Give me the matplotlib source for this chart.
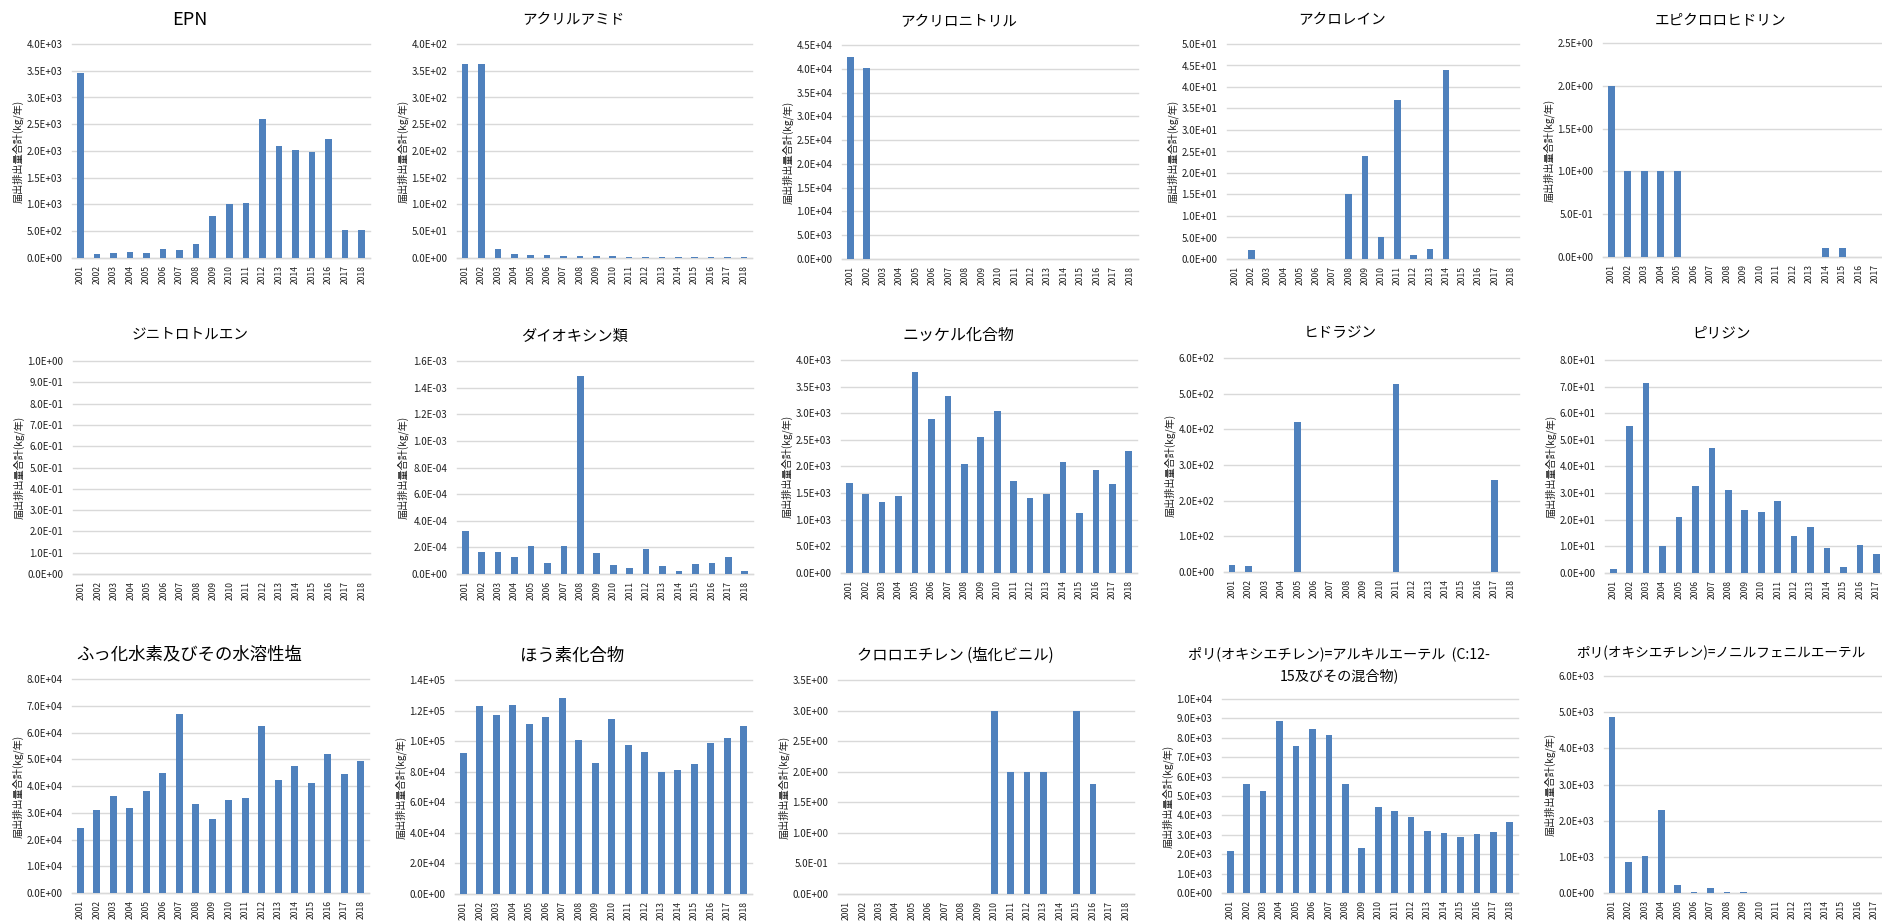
import numpy as np
import matplotlib
matplotlib.use("Agg")
import matplotlib.pyplot as plt
from matplotlib.ticker import FuncFormatter

plt.rcParams['font.family'] = ['Noto Sans CJK JP', 'DejaVu Sans']

W, H = 1883, 922
bar_color = "#4F81BD"
grid_color = "#D9D9D9"
ylabel = "届出排出量合計(kg/年)"

years = ["2001", "2002", "2003", "2004", "2005", "2006", "2007", "2008", "2009",
         "2010", "2011", "2012", "2013", "2014", "2015", "2016", "2017", "2018"]

epn = [3460, 80, 100, 120, 100, 174, 155, 261, 783, 1000, 1019, 2596, 2093, 2019, 1988, 2217, 516, 516]
acrylamide = [362, 362, 17, 7.5, 5.6, 5.6, 3.8, 3.8, 3.8, 3.8, 2.5, 2.5, 2.5, 2.5, 2.5, 2.5, 2.5, 2.5]
acrylonitrile = [42400, 40100, 0, 0, 0, 0, 0, 0, 0, 0, 0, 0, 0, 0, 0, 0, 0, 0]
acrolein = [0, 2, 0, 0, 0, 0, 0, 15, 24, 5, 37, 1, 2.4, 44, 0, 0, 0, 0]
epichlorohydrin = [2, 1, 1, 1, 1, 0, 0, 0, 0, 0, 0, 0, 0, 0.1, 0.1, 0, 0, 0]
dinitrotoluene = [0] * 18
dioxins = [3.26e-4, 1.68e-4, 1.68e-4, 1.30e-4, 2.10e-4, 0.80e-4, 2.10e-4, 14.84e-4, 1.60e-4,
           0.65e-4, 0.45e-4, 1.90e-4, 0.60e-4, 0.23e-4, 0.73e-4, 0.80e-4, 1.25e-4, 0.23e-4]
nickel = [1684, 1490, 1327, 1446, 3781, 2898, 3324, 2047, 2554, 3036, 1721, 1415, 1490, 2085, 1127, 1941, 1671, 2297]
hydrazine = [20, 18, 0, 0, 420, 0, 0, 0, 0, 0, 528, 0, 0, 0, 0, 0, 257, 0]
pyridine = [1.6, 55.3, 71.2, 10.0, 20.9, 32.8, 47.0, 31.0, 23.7, 23.0, 27.0, 13.9, 17.2, 9.3, 2.4, 10.4, 7.0, 6.0]
hf = [24400, 30900, 36300, 31900, 38100, 44900, 66800, 33400, 27700, 34800, 35500, 62600, 42400, 47500,
      41200, 52100, 44600, 49500]
boron = [92000, 123000, 117300, 123600, 111000, 115600, 128000, 101000, 85900, 114300, 97300, 92700,
         79600, 81300, 85300, 99000, 102300, 109700]
vinyl_chloride = [0, 0, 0, 0, 0, 0, 0, 0, 0, 3, 2, 2, 2, 0, 3, 1.8, 0, 0]
aeo = [2178, 5626, 5232, 8851, 7564, 8456, 8148, 5626, 2316, 4425, 4237, 3894, 3208, 3105, 2899, 3053, 3156, 3654]
npe = [4866, 848, 1014, 2286, 221, 40, 147, 18, 28, 10, 10, 10, 10, 10, 10, 10, 10, 10]

# title, values, y max, y step
panels = [
    ("EPN", epn, 4000, 500),
    ("アクリルアミド", acrylamide, 400, 50),
    ("アクリロニトリル", acrylonitrile, 45000, 5000),
    ("アクロレイン", acrolein, 50, 5),
    ("エピクロロヒドリン", epichlorohydrin, 2.5, 0.5),
    ("ジニトロトルエン", dinitrotoluene, 1.0, 0.1),
    ("ダイオキシン類", dioxins, 1.6e-3, 2e-4),
    ("ニッケル化合物", nickel, 4000, 500),
    ("ヒドラジン", hydrazine, 600, 100),
    ("ピリジン", pyridine, 80, 10),
    ("ふっ化水素及びその水溶性塩", hf, 80000, 10000),
    ("ほう素化合物", boron, 140000, 20000),
    ("クロロエチレン (塩化ビニル)", vinyl_chloride, 3.5, 0.5),
    ("ポリ(オキシエチレン)=アルキルエーテル  (C:12-\n15及びその混合物)", aeo, 10000, 1000),
    ("ポリ(オキシエチレン)=ノニルフェニルエーテル", npe, 6000, 1000),
]

# pixel layout: left, right, top gridline y, zero y, title y, title size
layout = [
    (72, 370, 44, 258, 20, 13),
    (457, 752, 44, 258, 20, 10.5),
    (842, 1138, 45, 259, 22, 10.5),
    (1227, 1519, 44, 259, 20, 10.5),
    (1603, 1900, 43, 257, 20, 10.5),
    (73, 370, 361, 574, 334, 10.5),
    (457, 753, 361, 574, 336, 11),
    (841, 1137, 360, 573, 335, 11.5),
    (1224, 1519, 358, 572, 333, 10.5),
    (1605, 1901, 360, 573, 333, 10.5),
    (72, 369, 679, 893, 654, 12.5),
    (455, 752, 680, 894, 656, 12.5),
    (838, 1134, 680, 894, 655, 11),
    (1222, 1518, 699, 893, 664.5, 10.2),
    (1604, 1899, 676, 893, 653, 9.8),
]

fig = plt.figure(figsize=(W / 100, H / 100), dpi=100)
fig.patch.set_facecolor("white")
fmt = FuncFormatter(lambda v, p: f"{v:.1E}")
x = np.arange(len(years))

for (title, vals, ymax, step), (l, r, t, z, ty, ts) in zip(panels, layout):
    ax = fig.add_axes([l / W, 1 - z / H, (r - l) / W, (z - t) / H])
    ax.bar(x, vals, width=0.4, color=bar_color, linewidth=0, zorder=3)
    ax.set_xlim(-0.5, len(years) - 0.5)
    ax.set_ylim(0, ymax)
    ax.set_yticks(np.arange(0, ymax + step / 2, step))
    ax.yaxis.set_major_formatter(fmt)
    ax.set_xticks(x)
    ax.set_xticklabels(years, rotation=90)
    ax.tick_params(axis="y", length=0, pad=7, labelsize=7, labelcolor="#202020")
    ax.tick_params(axis="x", length=0, pad=5, labelsize=6.2, labelcolor="#202020")
    ax.grid(axis="y", color=grid_color, linewidth=1, zorder=0)
    for tk in ax.yaxis.get_major_ticks():
        tk.gridline.set_clip_on(False)
    for s in ["top", "right", "left"]:
        ax.spines[s].set_visible(False)
    ax.spines["bottom"].set_color(grid_color)
    ax.spines["bottom"].set_linewidth(1)
    ax.set_axisbelow(True)
    fig.text((l - 54) / W, 1 - (t + z) / 2 / H, ylabel, rotation=90,
             ha="center", va="center", fontsize=7.3, color="#202020")
    cx = (l + r) / 2 - 31
    fig.text(cx / W, 1 - ty / H, title, ha="center", va="center",
             fontsize=ts, color="black", linespacing=1.6)

fig.savefig("out.png", dpi=100, facecolor="white")
